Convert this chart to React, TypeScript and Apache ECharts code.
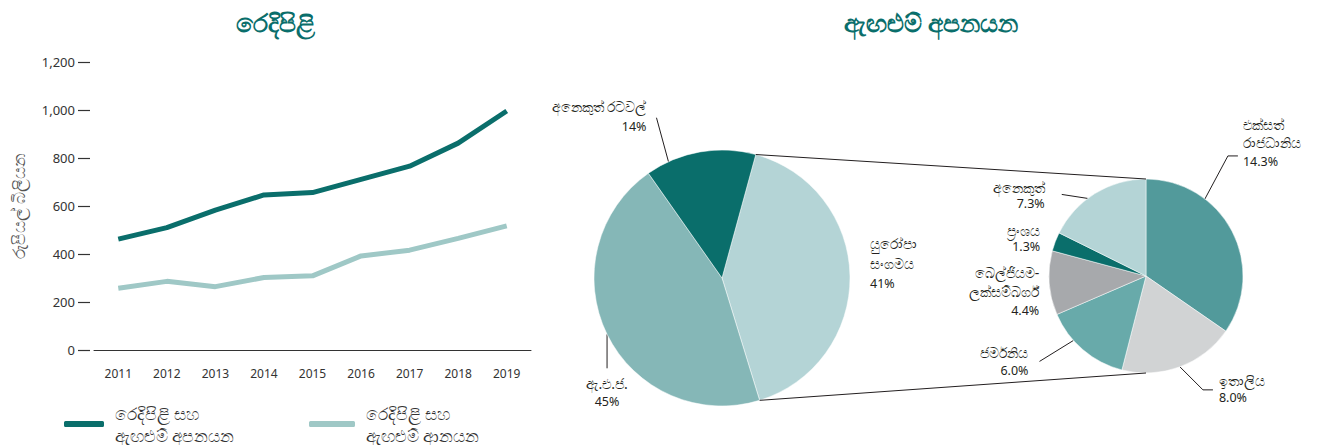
import React, { useEffect, useRef } from "react";
import * as echarts from "echarts";

// ---------- data ----------
const years = ["2011", "2012", "2013", "2014", "2015", "2016", "2017", "2018", "2019"];
const exportValues = [462, 510, 583, 646, 656, 711, 766, 862, 996];
const importValues = [257, 286, 264, 302, 309, 392, 416, 465, 517];
const exportName = "රෙදිපිළි සහ\nඇඟළුම් අපනයන";
const importName = "රෙදිපිළි සහ\nඇඟළුම් ආනයන";
const leftTitle = "රෙදිපිළි";
const rightTitle = "ඇඟළුම් අපනයන";
const yAxisName = "රුපියල් බිලියන";

const destNames = ["යුරෝපා\nසංගමය", "ඇ.එ.ජ.", "අනෙකුත් රටවල්"];
const destShares = [41, 45, 14];

const euNames = ["එක්සත්\nරාජධානිය", "ඉතාලිය", "ජර්මනිය", "බෙල්ජියම-\nලක්සම්බර්ග්", "ප්‍රංශය", "අනෙකුත්"];
const euShares = [14.3, 8.0, 6.0, 4.4, 1.3, 7.3];

// ---------- layout / style ----------
const DARK = "#0a6e6b";
const LIGHT_LINE = "#9fc8c6";
const TEXT = "#231f20";
const destColors = ["#b4d4d6", "#85b7b7", "#0a6e6b"];
const euColors = ["#529a9b", "#d1d3d4", "#68aaaa", "#a7a9ac", "#0a6e6b", "#b4d4d6"];

const P1 = { cx: 722, cy: 278, r: 128, start: 15.3 };
const P2 = { cx: 1146, cy: 276, r: 97, start: 0 };

type Spec = { frac: number; line?: number[][]; dx: number; dy: number; align: string; lh: number };
const destSpecs: Spec[] = [
  { frac: 0.5, dx: 20, dy: -12, align: "left", lh: 20 },
  { frac: 0.5, line: [[0, 0], [0, 34], [0, 34]], dx: 0, dy: 58, align: "center", lh: 18 },
  { frac: 0.206, line: [[0, 0], [-12, -44], [-12, -44]], dx: -22, dy: -45, align: "right", lh: 20 },
];
const euSpecs: Spec[] = [
  { frac: 0.3, line: [[0, 0], [23, -43], [33, -43]], dx: 38, dy: -56, align: "left", lh: 18.5 },
  { frac: 0.5, line: [[0, 0], [23, 23], [33, 23]], dx: 39, dy: 22, align: "left", lh: 17 },
  { frac: 0.65, line: [[0, 0], [-34, 21], [-34, 21]], dx: -45, dy: 21, align: "right", lh: 18 },
  { frac: 0.5, dx: -10, dy: 8, align: "right", lh: 19 },
  { frac: 0.5, dx: -15, dy: -3, align: "right", lh: 16 },
  { frac: 0.42, line: [[0, 0], [-26, -4], [-26, -4]], dx: -43, dy: -3, align: "right", lh: 16 },
];

const rad = (d: number) => (d * Math.PI) / 180;
const polar = (p: { cx: number; cy: number }, ang: number, r: number) => [
  p.cx + r * Math.sin(rad(ang)),
  p.cy - r * Math.cos(rad(ang)),
];
function sliceAngles(values: number[], start: number) {
  const total = values.reduce((a, b) => a + b, 0);
  let a = start;
  return values.map((v) => {
    const a0 = a;
    a += (v / total) * 360;
    return [a0, a];
  });
}

function makeLayout(p: typeof P1, values: number[], specs: Spec[]) {
  const angs = sliceAngles(values, p.start);
  return (params: any) => {
    const i = params.dataIndex;
    const s = specs[i];
    const [a0, a1] = angs[i];
    const anchor = polar(p, a0 + (a1 - a0) * s.frac, p.r);
    const out: any = {
      x: anchor[0] + s.dx,
      y: anchor[1] + s.dy,
      align: s.align,
      verticalAlign: "middle",
    };
    if (s.line) out.labelLinePoints = s.line.map((q) => [anchor[0] + q[0], anchor[1] + q[1]]);
    return out;
  };
}

export default function App() {
  const ref = useRef<HTMLDivElement>(null);
  useEffect(() => {
    if (!ref.current) return;
    const chart = echarts.init(ref.current, undefined, { renderer: "svg" });
    const font = "'Noto Sans', 'DejaVu Sans', sans-serif";

    const destAngles = sliceAngles(destShares, P1.start);
    const c1 = polar(P1, destAngles[0][0], P1.r);
    const c2 = polar(P1, destAngles[0][1], P1.r);
    const t1 = polar(P2, 0, P2.r);
    const t2 = polar(P2, 180, P2.r);

    const pieData = (names: string[], vals: number[], colors: string[], specs: Spec[]) =>
      names.map((n, i) => ({
        name: n,
        value: vals[i],
        itemStyle: { color: colors[i] },
        label: {
          align: specs[i].align,
          lineHeight: specs[i].lh,
          rich: {
            n: { fontSize: 14, lineHeight: specs[i].lh, color: TEXT, align: specs[i].align, fontFamily: font },
            p: { fontSize: 12.5, lineHeight: specs[i].lh, color: TEXT, align: specs[i].align, fontFamily: font },
          },
        },
        labelLine: { show: !!specs[i].line },
      }));

    const fmt = (digits: number) => (p: any) =>
      String(p.name)
        .split("\n")
        .map((s: string) => `{n|${s}}`)
        .join("\n") + `\n{p|${Number(p.value).toFixed(digits)}%}`;

    const legendText = { fontSize: 17, lineHeight: 22, color: "#333", fontFamily: font, padding: [0, 0, 0, 6] };

    chart.setOption({
      animation: false,
      textStyle: { fontFamily: font },
      title: [
        {
          text: leftTitle,
          left: 270,
          top: 4,
          textAlign: "center",
          textStyle: { color: DARK, fontSize: 25, fontWeight: "bold", fontFamily: font },
        },
        {
          text: rightTitle,
          left: 926,
          top: 4,
          textAlign: "center",
          textStyle: { color: DARK, fontSize: 25, fontWeight: "bold", fontFamily: font },
        },
      ],
      legend: [
        {
          data: [exportName],
          left: 64,
          top: 402,
          padding: 0,
          icon: "roundRect",
          itemWidth: 40,
          itemHeight: 6,
          selectedMode: false,
          textStyle: legendText,
        },
        {
          data: [importName],
          left: 309,
          top: 402,
          padding: 0,
          icon: "roundRect",
          itemWidth: 46,
          itemHeight: 6,
          selectedMode: false,
          textStyle: legendText,
        },
      ],
      grid: { left: 94, top: 62, width: 437, height: 288, containLabel: false },
      xAxis: {
        type: "category",
        data: years,
        boundaryGap: true,
        axisLine: { show: true, lineStyle: { color: "#333", width: 1 } },
        axisTick: { show: false },
        axisLabel: { color: "#333", fontSize: 12, margin: 17, fontFamily: font },
      },
      yAxis: {
        type: "value",
        min: 0,
        max: 1200,
        interval: 200,
        offset: 4,
        name: yAxisName,
        nameLocation: "middle",
        nameRotate: 90,
        nameGap: 63,
        nameTextStyle: { color: "#555", fontSize: 16.5, fontFamily: font },
        axisLine: { show: false },
        axisTick: { show: true, length: 12, lineStyle: { color: "#333", width: 1.2 } },
        axisLabel: {
          color: "#333",
          fontSize: 13,
          margin: 15,
          fontFamily: font,
          formatter: (v: number) => v.toLocaleString("en-US"),
        },
        splitLine: { show: false },
      },
      series: [
        {
          type: "line",
          name: exportName,
          data: exportValues,
          symbol: "none",
          lineStyle: { color: DARK, width: 5 },
          itemStyle: { color: DARK },
        },
        {
          type: "line",
          name: importName,
          data: importValues,
          symbol: "none",
          lineStyle: { color: LIGHT_LINE, width: 5 },
          itemStyle: { color: LIGHT_LINE },
        },
        {
          type: "pie",
          center: [P1.cx, P1.cy],
          radius: P1.r,
          startAngle: 90 - P1.start,
          clockwise: true,
          avoidLabelOverlap: false,
          itemStyle: { borderColor: "#fff", borderWidth: 0.5 },
          label: {
            show: true,
            position: "outside",
            color: TEXT,
            fontSize: 12.5,
            fontFamily: font,
            formatter: fmt(0),
          },
          labelLine: { show: true, lineStyle: { color: TEXT, width: 1 } },
          labelLayout: makeLayout(P1, destShares, destSpecs),
          data: pieData(destNames, destShares, destColors, destSpecs),
          emphasis: { disabled: true },
        },
        {
          type: "pie",
          center: [P2.cx, P2.cy],
          radius: P2.r,
          startAngle: 90 - P2.start,
          clockwise: true,
          avoidLabelOverlap: false,
          itemStyle: { borderColor: "#fff", borderWidth: 0.5 },
          label: {
            show: true,
            position: "outside",
            color: TEXT,
            fontSize: 12.5,
            fontFamily: font,
            formatter: fmt(1),
          },
          labelLine: { show: true, lineStyle: { color: TEXT, width: 1 } },
          labelLayout: makeLayout(P2, euShares, euSpecs),
          data: pieData(euNames, euShares, euColors, euSpecs),
          emphasis: { disabled: true },
        },
      ],
      graphic: [
        {
          type: "line",
          shape: { x1: c1[0], y1: c1[1], x2: t1[0], y2: t1[1] },
          style: { stroke: TEXT, lineWidth: 1 },
          z: 10,
        },
        {
          type: "line",
          shape: { x1: c2[0], y1: c2[1], x2: t2[0], y2: t2[1] },
          style: { stroke: TEXT, lineWidth: 1 },
          z: 10,
        },
      ],
    });
    return () => chart.dispose();
  }, []);
  return (
    <div
      ref={ref}
      style={{ position: "fixed", left: 0, top: 0, width: 1319, height: 445, background: "#fff" }}
    />
  );
}
